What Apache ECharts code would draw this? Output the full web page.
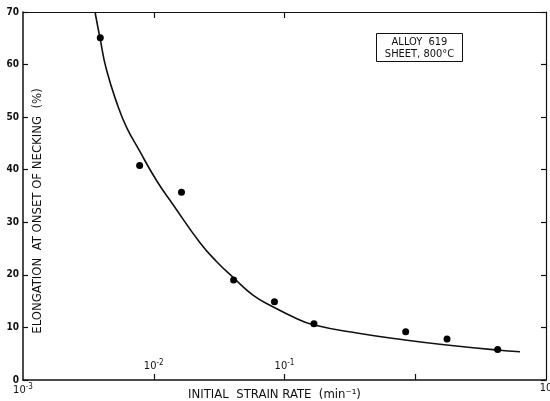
<!DOCTYPE html>
<html><head><meta charset="utf-8">
<script src="https://cdn.jsdelivr.net/npm/echarts@6/dist/echarts.min.js"></script>
<style>html,body{margin:0;padding:0;background:#fff}#c{width:550px;height:401px}</style>
</head><body><div id="c"></div>
<script>
// Measured data points: [strain rate (min^-1), elongation (%)]
const strainRate = [0.0039, 0.0078, 0.0163, 0.0408, 0.0838, 0.168, 0.845, 1.75, 4.27];
const elongation = [65.1, 40.8, 35.7, 19.0, 14.9, 10.7, 9.2, 7.8, 5.8];
// Fitted curve
const curveRate = [0.003554, 0.00388, 0.004351, 0.005356, 0.00621, 0.007617, 0.010533, 0.014107, 0.022587, 0.030306, 0.040597, 0.05773, 0.082086, 0.11676, 0.1661, 0.37775, 0.83486, 1.7397, 4.1969, 6.3241];
const curveElong = [70.0, 65.06, 59.0, 51.9, 48.0, 44.0, 37.9, 33.3, 26.1, 22.5, 19.5, 16.1, 13.9, 12.0, 10.5, 8.85, 7.61, 6.66, 5.71, 5.38];
const yTicks = [0, 10, 20, 30, 40, 50, 60, 70];
const innerXLabels = [0.01, 0.1];
const outerXLabels = [0.001, 10];
const bottomTicks = [0.01, 0.1, 1];
const topTicks = [0.01, 0.1];
const yTitle = 'ELONGATION  AT ONSET OF NECKING  (%)';
const xTitle = 'INITIAL  STRAIN RATE  (min\u207B\u00B9)';

const FONT = "'DejaVu Sans Condensed','Liberation Sans Narrow','DejaVu Sans',sans-serif";
const exp = {0.001:'-3',0.01:'-2',0.1:'-1',1:'0'};
function fmtPow(v){
  if (Math.abs(v-10) < 1e-9) return '{b|10}';
  for (const k in exp){ if (Math.abs(v-Number(k)) < 1e-12) return '{b|10}{s|'+exp[k]+'}'; }
  return '';
}
const rich = {b:{fontSize:11,fontFamily:FONT,color:'#111'}, s:{fontSize:8,fontFamily:FONT,color:'#111',verticalAlign:'top',padding:[0,0,7,0]}};

const chart = echarts.init(document.getElementById('c'), null, {renderer:'canvas'});
chart.setOption({
  animation:false,
  backgroundColor:'#fff',
  grid:{left:23, right:4, top:12, bottom:21, containLabel:false, outerBoundsMode:'none'},
  xAxis:[
    {type:'log', logBase:10, min:0.001, max:10, position:'bottom',
     axisLine:{show:true, lineStyle:{color:'#111', width:1.5}},
     axisTick:{show:true, inside:true, length:6, customValues:bottomTicks, lineStyle:{color:'#111', width:1.2}},
     axisLabel:{show:true, inside:true, customValues:innerXLabels, formatter:fmtPow, rich:rich, margin:6},
     splitLine:{show:false},
     name:xTitle, nameLocation:'middle', nameGap:8,
     nameTextStyle:{fontFamily:FONT, fontSize:13, color:'#111', padding:[0,20,0,0]}},
    {type:'log', logBase:10, min:0.001, max:10, position:'bottom',
     axisLine:{show:false}, axisTick:{show:false},
     axisLabel:{show:true, customValues:outerXLabels, formatter:fmtPow, rich:rich, margin:3},
     splitLine:{show:false}},
    {type:'log', logBase:10, min:0.001, max:10, position:'top',
     axisLine:{show:true, lineStyle:{color:'#111', width:1.2}},
     axisTick:{show:true, inside:true, length:6, customValues:topTicks, lineStyle:{color:'#111', width:1.2}},
     axisLabel:{show:false}, splitLine:{show:false}}
  ],
  yAxis:[
    {type:'value', min:0, max:70, interval:10, position:'left',
     axisLine:{show:true, lineStyle:{color:'#111', width:1.5}},
     axisTick:{show:true, inside:true, length:5, lineStyle:{color:'#111', width:1.2}},
     axisLabel:{color:'#111', fontFamily:FONT, fontSize:10, fontWeight:'bold', margin:4},
     splitLine:{show:false}},
    {type:'value', min:0, max:70, interval:10, position:'right',
     axisLine:{show:true, lineStyle:{color:'#111', width:1.2}},
     axisTick:{show:true, inside:true, length:5, lineStyle:{color:'#111', width:1.2}},
     axisLabel:{show:false}, splitLine:{show:false}}
  ],
  graphic:[
    {type:'text', x:38, y:211, rotation:Math.PI/2,
     style:{text:yTitle, fontFamily:FONT, fontSize:13, fill:'#111', textAlign:'center', textVerticalAlign:'middle'}},
    {type:'group', left:376, top:33, children:[
      {type:'rect', shape:{x:0,y:0,width:86,height:28}, style:{fill:'#fff', stroke:'#111', lineWidth:1}},
      {type:'text', x:43, y:8.5, style:{text:'ALLOY  619', fontFamily:FONT, fontSize:11, fill:'#111', textAlign:'center', textVerticalAlign:'middle'}},
      {type:'text', x:43, y:20.5, style:{text:'SHEET, 800\u00B0C', fontFamily:FONT, fontSize:11, fill:'#111', textAlign:'center', textVerticalAlign:'middle'}}
    ]}
  ],
  series:[
    {type:'line', xAxisIndex:0, yAxisIndex:0, data:curveRate.map((x,i)=>[x,curveElong[i]]),
     smooth:0.5, showSymbol:false, lineStyle:{color:'#111', width:1.6}, z:2},
    {type:'scatter', xAxisIndex:0, yAxisIndex:0, data:strainRate.map((x,i)=>[x,elongation[i]]),
     symbol:'circle', symbolSize:7, itemStyle:{color:'#000', opacity:1}, z:3}
  ]
});
</script></body></html>
